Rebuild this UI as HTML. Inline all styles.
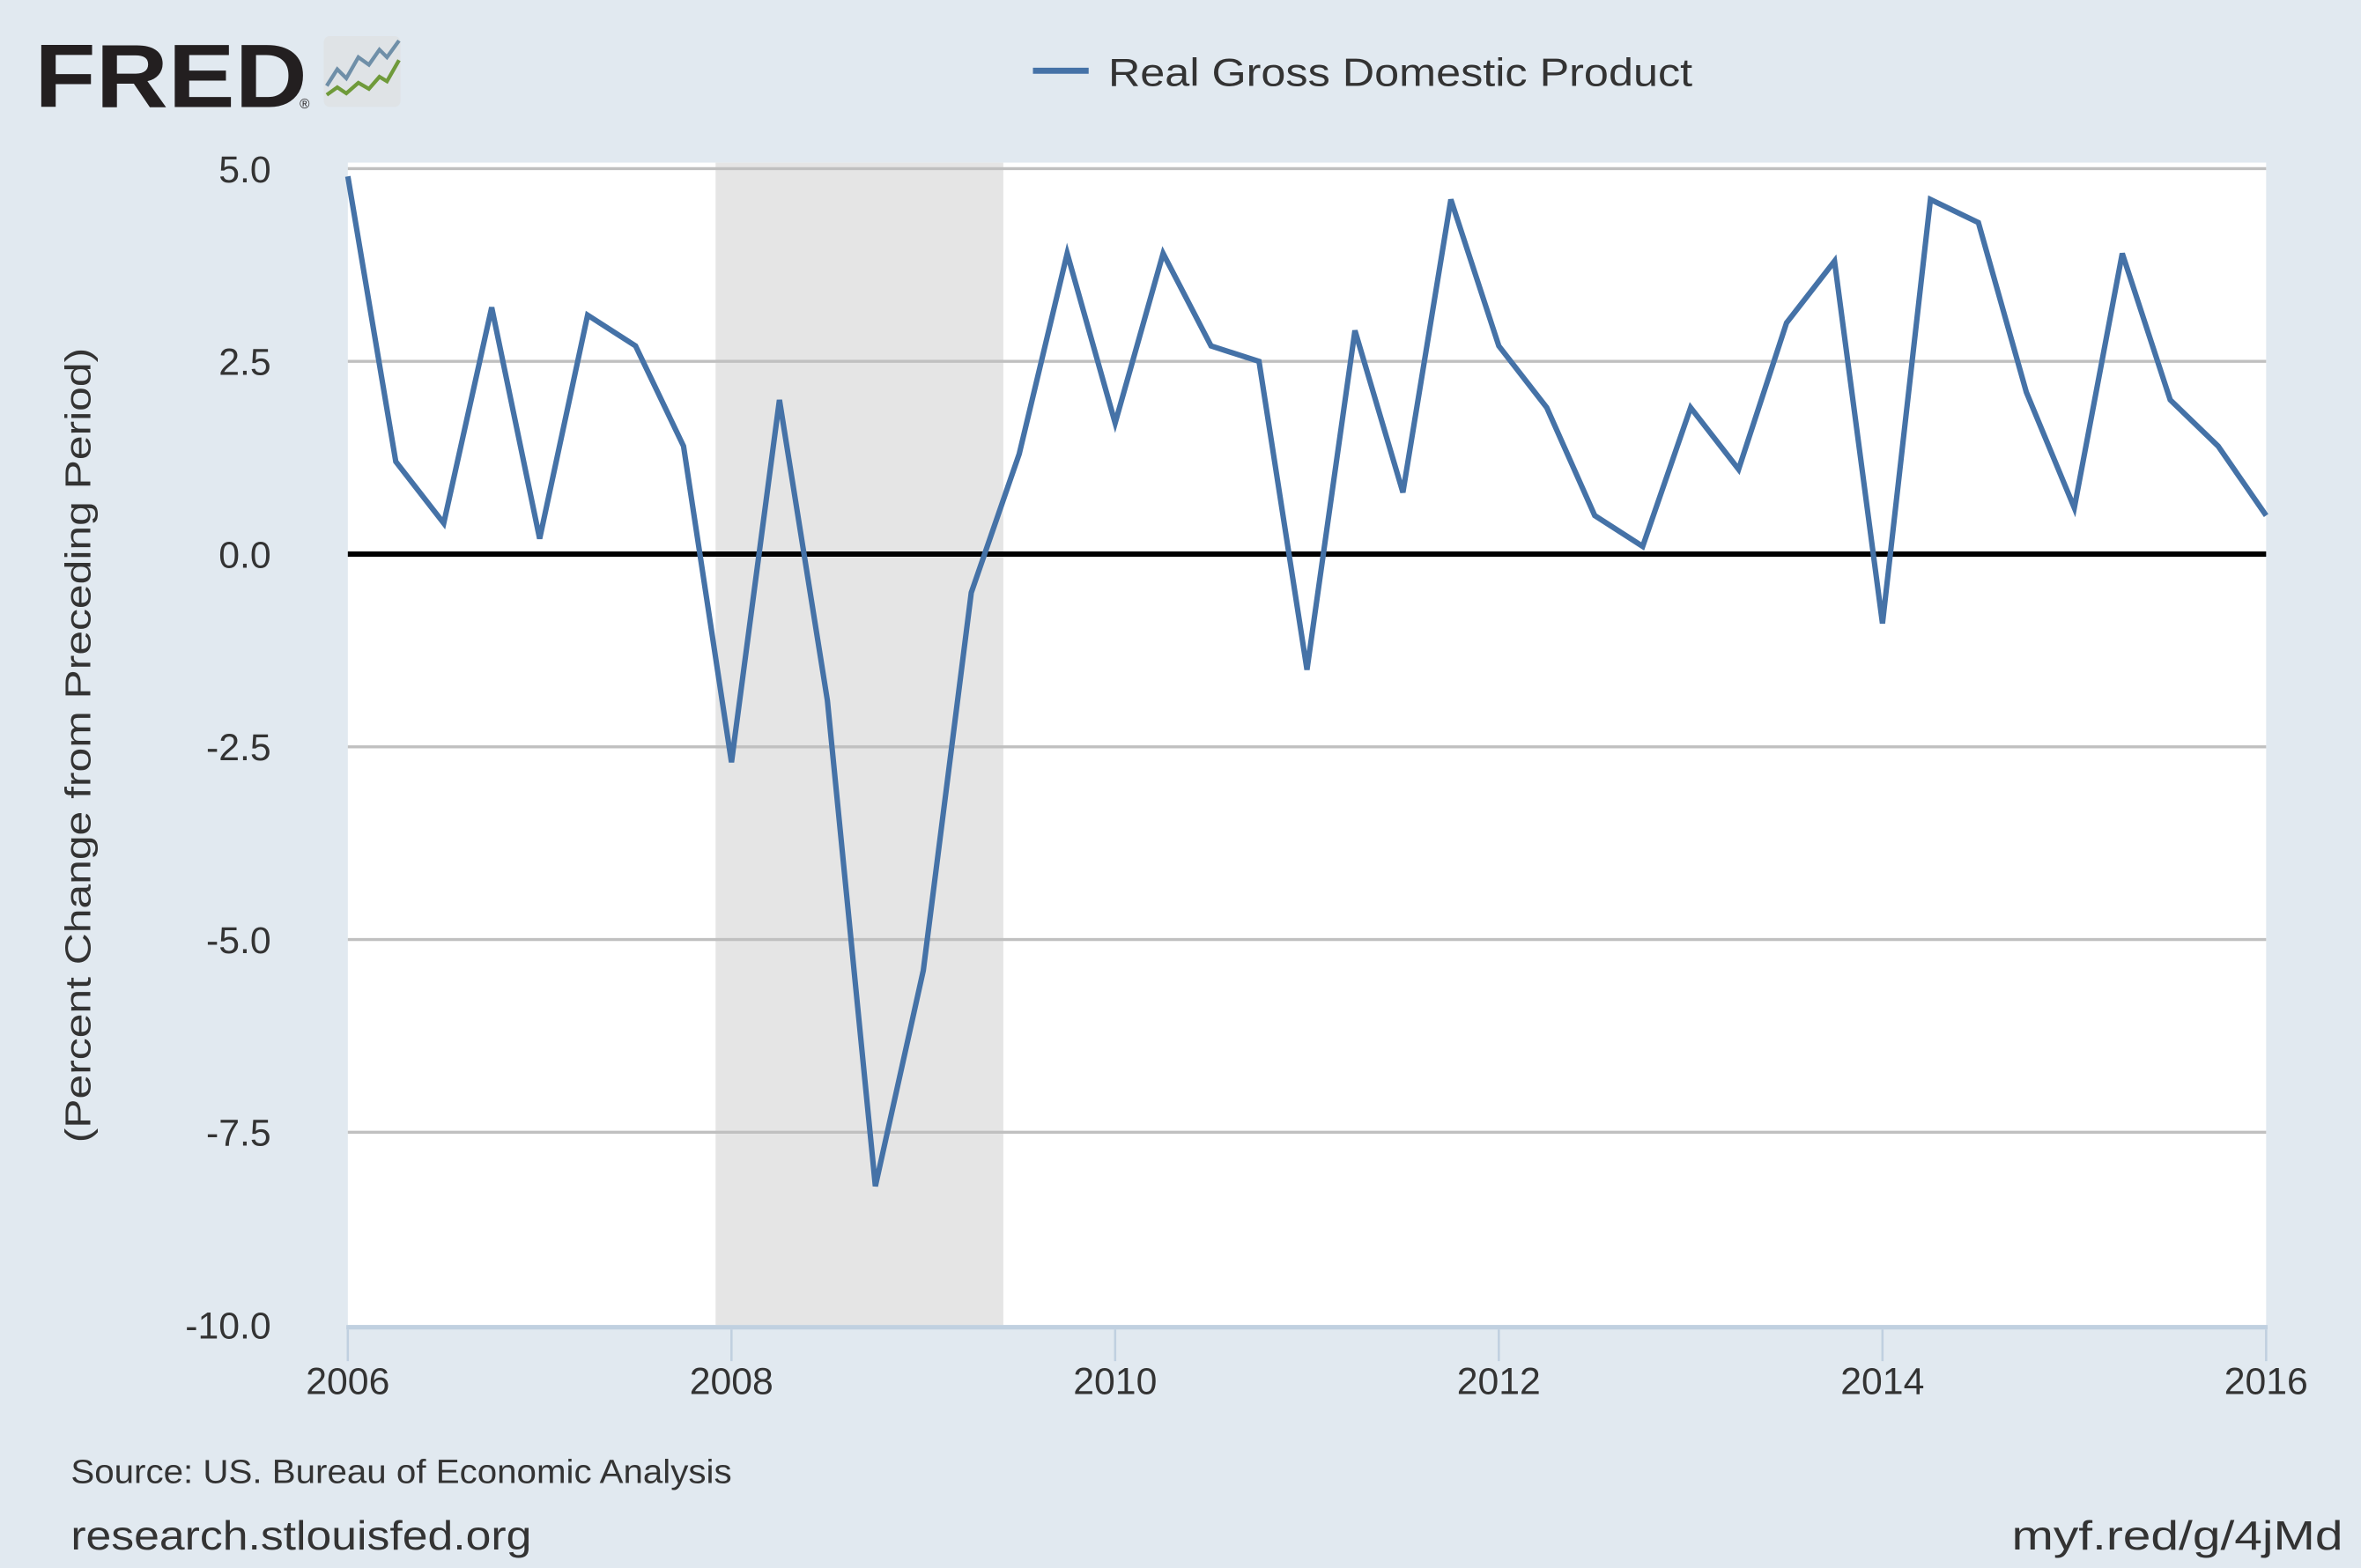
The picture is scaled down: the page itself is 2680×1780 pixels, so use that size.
<!DOCTYPE html>
<html><head><meta charset="utf-8"><style>
html,body{margin:0;padding:0;background:#e1e9f0;}
svg{display:block;font-family:"Liberation Sans",sans-serif;}
</style></head><body>
<svg id="chart" width="2680" height="1780" viewBox="0 0 1568 1041.4" preserveAspectRatio="none" xmlns="http://www.w3.org/2000/svg">
<rect x="0" y="0" width="1568" height="1042" fill="#e1e9f0"/>
<g>
<text x="23" y="71" font-size="60" font-weight="bold" fill="#231f20" textLength="181" lengthAdjust="spacingAndGlyphs">FRED</text>
<text x="199" y="72" font-size="9" fill="#231f20">®</text>
<rect x="215" y="24" width="51" height="47" rx="4" fill="#dfe3e6"/>
<polyline points="217,57 224,46 230,52 238,38 245,43 252,33 257,38 265,27" fill="none" stroke="#6f8fa8" stroke-width="2.5"/>
<polyline points="217,63 224,58 230,62 238,55 245,59 252,51 257,54 265,40" fill="none" stroke="#6f9a3a" stroke-width="2.5"/>
</g>
<g>
<line x1="686" y1="47" x2="723" y2="47" stroke="#4572a7" stroke-width="4"/>
<text x="736" y="57" font-size="26" fill="#333" textLength="388" lengthAdjust="spacingAndGlyphs">Real Gross Domestic Product</text>
</g>
<rect x="231" y="108" width="1274" height="772" fill="#fff"/>
<g id="recessions"></g>
<g id="grid"></g>
<g id="xaxis"></g>
<g id="series"></g>
<text transform="translate(60,495) rotate(-90)" text-anchor="middle" font-size="24" fill="#333" textLength="528" lengthAdjust="spacingAndGlyphs">(Percent Change from Preceding Period)</text>
<text x="47" y="985" font-size="22" fill="#333" textLength="439" lengthAdjust="spacingAndGlyphs">Source: US. Bureau of Economic Analysis</text>
<text x="47" y="1029" font-size="27" fill="#333" textLength="306" lengthAdjust="spacingAndGlyphs">research.stlouisfed.org</text>
<text x="1336" y="1029" font-size="27" fill="#333" textLength="220" lengthAdjust="spacingAndGlyphs">myf.red/g/4jMd</text>
</svg>
<script>
const values = [4.9,1.2,0.4,3.2,0.2,3.1,2.7,1.4,-2.7,2.0,-1.9,-8.2,-5.4,-0.5,1.3,3.9,1.7,3.9,2.7,2.5,-1.5,2.9,0.8,4.6,2.7,1.9,0.5,0.1,1.9,1.1,3.0,3.8,-0.9,4.6,4.3,2.1,0.6,3.9,2.0,1.4,0.5];
const startYear = 2006;
const yTicks = [5.0,2.5,0.0,-2.5,-5.0,-7.5,-10.0];
const xTicks = [2006,2008,2010,2012,2014,2016];
const recessionStart = [2007.917];
const recessionEnd = [2009.417];

const NS='http://www.w3.org/2000/svg';
const X0=231,X1=1505,Y0=368,PX=51.2;
const xs=t=>X0+(t-2006)*(X1-X0)/10;
const ys=v=>Y0-v*PX;
function mk(tag,parent,attrs){const e=document.createElementNS(NS,tag);for(const k in attrs)e.setAttribute(k,attrs[k]);parent.appendChild(e);return e;}
const rg=document.getElementById('recessions');
for(let i=0;i<recessionStart.length;i++){
  const r=mk('rect',rg,{x:xs(recessionStart[i]),y:108,width:xs(recessionEnd[i])-xs(recessionStart[i]),height:772,fill:'#e5e5e5'});
  
  
}
const gg=document.getElementById('grid');
yTicks.forEach(v=>{
  if(v!==0&&v!==-10){const l=mk('line',gg,{x1:X0,x2:X1,y1:ys(v),y2:ys(v),stroke:'#c0c0c0','stroke-width':2});
  
  }
  const t=mk('text',gg,{x:180,y:ys(v)+9,'text-anchor':'end','font-size':25,fill:'#333'});
  t.textContent=v.toFixed(1);
  
  
});
const z=mk('line',gg,{x1:X0,x2:X1,y1:ys(0),y2:ys(0),stroke:'#000','stroke-width':3.5});


const xg=document.getElementById('xaxis');
const ax=mk('line',xg,{x1:X0-1,x2:X1+1,y1:ys(-10)+1.5,y2:ys(-10)+1.5,stroke:'#c0d0e0','stroke-width':3});


xTicks.forEach(y=>{
  const l=mk('line',xg,{x1:xs(y),x2:xs(y),y1:ys(-10)+3,y2:ys(-10)+24,stroke:'#c0d0e0','stroke-width':1.5});
  
  
  const t=mk('text',xg,{x:xs(y),y:926,'text-anchor':'middle','font-size':25,fill:'#333'});
  t.textContent=y;
  
  
});
const pts=values.map((v,i)=>xs(startYear+i/4)+','+ys(v)).join(' ');
const pl=mk('polyline',document.getElementById('series'),{points:pts,fill:'none',stroke:'#4572a7','stroke-width':3.6,'stroke-linejoin':'miter'});


</script>
</body></html>
